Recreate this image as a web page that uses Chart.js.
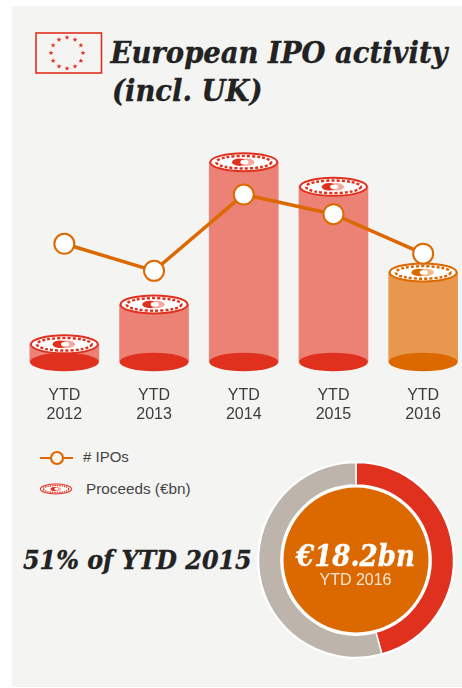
<!DOCTYPE html>
<html><head><meta charset="utf-8">
<script src="https://cdn.jsdelivr.net/npm/chart.js@4"></script>
<style>
html,body{margin:0;padding:0;background:#fff;width:462px;height:688px;overflow:hidden}
#panel{position:absolute;left:12px;top:6px;width:450px;height:681px;background:#f4f4f2}
.t{position:absolute;white-space:nowrap}
.serif{font-family:"DejaVu Serif Condensed","DejaVu Serif",serif;font-weight:bold;font-style:italic;color:#222;-webkit-text-stroke:0.35px currentColor}
.sans{font-family:"Liberation Sans",Arial,sans-serif;color:#444}
canvas.c{position:absolute}
</style></head><body>
<div id="panel"></div>
<svg id="flag" class="t" style="left:35px;top:32px" width="68" height="43"></svg>
<div class="t serif" id="title1" style="left:110.5px;top:34px;font-size:30.5px;line-height:36px"></div>
<div class="t serif" id="title2" style="left:112px;top:72px;font-size:30.5px;line-height:36px"></div>
<div style="position:absolute;left:0;top:100px;width:480px;height:330px"><canvas id="main" class="c"></canvas></div>
<canvas id="lg1" class="c" style="left:36px;top:448px" width="42" height="20"></canvas>
<div class="t sans" style="left:83px;top:448px;font-size:15px;line-height:18px" id="lt1"></div>
<canvas id="lg2" class="c" style="left:36px;top:480px" width="42" height="18"></canvas>
<div class="t sans" style="left:86px;top:480px;font-size:15.3px;line-height:18px" id="lt2"></div>
<div class="t serif" id="share" style="left:23px;top:545px;font-size:26.5px;line-height:30px"></div>
<div style="position:absolute;left:245.5px;top:450px;width:220px;height:220px"><canvas id="ring" class="c"></canvas></div>
<div class="t serif" id="big" style="left:255.5px;width:200px;text-align:center;top:539px;font-size:29px;line-height:34px;color:#fff"></div>
<div class="t sans" id="sub" style="left:255.5px;width:200px;text-align:center;top:571px;font-size:16px;line-height:18px;color:#fbe6d4"></div>
<script>
const titleLines = ['European IPO activity', '(incl. UK)'];
const categories = [['YTD','2012'],['YTD','2013'],['YTD','2014'],['YTD','2015'],['YTD','2016']];
const proceeds = [3.6, 11.7, 40.6, 35.6, 18.2];
const ipos = [48, 37, 68, 60, 44];
const legendNames = ['# IPOs', 'Proceeds (€bn)'];
const shareLabel = '51% of YTD 2015';
const bigLabel = '€18.2bn';
const subLabel = 'YTD 2016';
const ringValues = [18.2, 21.6];

const RED='#e0301e', ORANGE='#dc6900', GREY='#bdb5ab';
const barFills=['#ec8276','#ec8276','#ec8276','#ec8276','#e8974e'];
const baseFills=[RED,RED,RED,RED,ORANGE];
const markTints=['#f5a99f','#f5a99f','#f5a99f','#f5a99f','#f2bd8a'];

document.getElementById('title1').textContent=titleLines[0];
document.getElementById('title2').textContent=titleLines[1];
document.getElementById('lt1').textContent=legendNames[0];
document.getElementById('lt2').textContent=legendNames[1];
document.getElementById('share').textContent=shareLabel;
document.getElementById('big').textContent=bigLabel;
document.getElementById('sub').textContent=subLabel;

function star(cx,cy,r){let s='';for(let i=0;i<10;i++){const a=-Math.PI/2+i*Math.PI/5,q=i%2?r*0.42:r;s+=(cx+q*Math.cos(a)).toFixed(1)+','+(cy+q*Math.sin(a)).toFixed(1)+' ';}return s;}
let svg='<rect x="1" y="1" width="65.5" height="40" fill="none" stroke="'+RED+'" stroke-width="1.6"/>';
for(let i=0;i<12;i++){const a=i*Math.PI/6;svg+='<polygon fill="'+RED+'" points="'+star(32+16*Math.cos(a),21+15.5*Math.sin(a),2.6)+'"/>';}
document.getElementById('flag').innerHTML=svg;

function coin(ctx,x,y,rx,ry,col,tint){
  ctx.save();
  ctx.beginPath();ctx.ellipse(x,y,rx,ry,0,0,Math.PI*2);ctx.fillStyle='#fff';ctx.fill();
  ctx.lineWidth=Math.max(1,ry*0.22);ctx.strokeStyle=col;ctx.stroke();
  ctx.beginPath();ctx.ellipse(x,y,rx*0.82,ry*0.7,0,0,Math.PI*2);
  ctx.lineWidth=Math.max(1,ry*0.27);ctx.setLineDash([rx*0.09,rx*0.06]);ctx.stroke();ctx.setLineDash([]);
  // euro mark
  ctx.beginPath();ctx.ellipse(x+rx*0.08,y,rx*0.24,ry*0.42,0,0,Math.PI*2);ctx.fillStyle=tint;ctx.fill();
  ctx.beginPath();ctx.ellipse(x-rx*0.13,y,rx*0.22,ry*0.42,0,0,Math.PI*2);ctx.fillStyle=col;ctx.fill();
  ctx.beginPath();ctx.ellipse(x+rx*0.02,y,rx*0.12,ry*0.26,0,0,Math.PI*2);ctx.fillStyle='#fff';ctx.fill();
  ctx.restore();
}

const cylinders={id:'cylinders',afterDatasetDraw(chart,args){
  if(args.index!==0)return;
  const ctx=chart.ctx;
  args.meta.data.forEach((b,i)=>{
    const rx=b.width/2;
    ctx.save();ctx.beginPath();ctx.ellipse(b.x,b.base,rx,9.2,0,0,Math.PI*2);ctx.fillStyle=baseFills[i];ctx.fill();ctx.restore();
    coin(ctx,b.x,b.y,rx-1,9,baseFills[i],markTints[i]);
  });
}};

new Chart(document.getElementById('main'),{
  data:{labels:categories,datasets:[
    {type:'bar',label:legendNames[1],data:proceeds,yAxisID:'y',backgroundColor:barFills,barThickness:69,order:2},
    {type:'line',label:legendNames[0],data:ipos,yAxisID:'y2',borderColor:ORANGE,borderWidth:3.5,pointRadius:10,pointHoverRadius:10,pointBorderWidth:2,pointBorderColor:ORANGE,pointBackgroundColor:'#fff',tension:0,clip:false,order:1}
  ]},
  options:{responsive:true,maintainAspectRatio:false,animation:false,
    layout:{padding:{left:19.5,right:10.5,top:0,bottom:0}},
    plugins:{legend:{display:false},tooltip:{enabled:false}},
    scales:{
      x:{offset:true,grid:{display:false},border:{display:false},
         afterFit(s){s.height=68;},
         ticks:{color:'#3c3c3c',padding:16,maxRotation:0,font:{family:'"Liberation Sans"',size:16,lineHeight:1.2}}},
      y:{display:false,min:0,max:50.8},
      y2:{display:false,min:0,max:101.5}
    }
  },plugins:[cylinders]});

const orangeDisc={id:'orangeDisc',beforeDatasetsDraw(chart){
  const a=chart.getDatasetMeta(0).data[0];const ctx=chart.ctx;
  ctx.save();
  ctx.beginPath();ctx.arc(a.x,a.y,a.outerRadius+1.5,0,Math.PI*2);ctx.fillStyle='#fff';ctx.fill();
  ctx.beginPath();ctx.arc(a.x,a.y,72.5,0,Math.PI*2);ctx.fillStyle=ORANGE;ctx.fill();
  ctx.restore();
}};
new Chart(document.getElementById('ring'),{
  type:'doughnut',
  data:{labels:['YTD 2016','Rest of YTD 2015'],datasets:[{data:ringValues,backgroundColor:[RED,GREY],borderColor:'#fff',borderWidth:1.5}]},
  options:{responsive:true,maintainAspectRatio:false,animation:false,radius:97.5,cutout:'77%',
    plugins:{legend:{display:false},tooltip:{enabled:false}}},
  plugins:[orangeDisc]});

const l1=document.getElementById('lg1').getContext('2d');
l1.strokeStyle=ORANGE;l1.lineWidth=2;l1.beginPath();l1.moveTo(4,10);l1.lineTo(37,10);l1.stroke();
l1.beginPath();l1.arc(21,10,6,0,Math.PI*2);l1.fillStyle='#fdf6ee';l1.fill();l1.lineWidth=2.2;l1.stroke();
coin(document.getElementById('lg2').getContext('2d'),20,9,15.5,5,RED,'#f5a99f');
</script>
</body></html>
